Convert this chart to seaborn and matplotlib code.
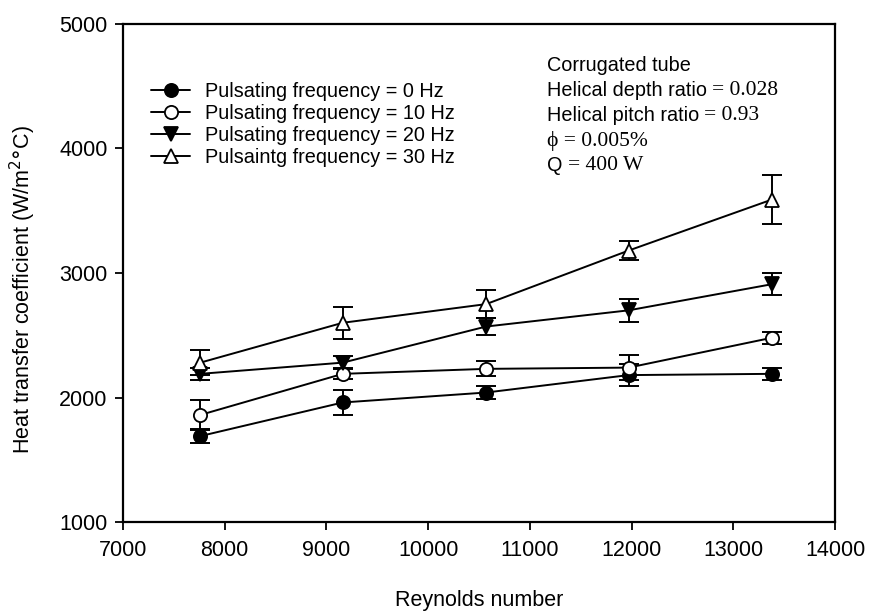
import matplotlib
matplotlib.use("Agg")
import matplotlib.pyplot as plt
import seaborn as sns
import pandas as pd
from matplotlib.lines import Line2D

# Reynolds numbers of the measurement points
reynolds = [7760, 9160, 10570, 11970, 13380]

# Heat transfer coefficient (W/m2 C) and scatter for each pulsating frequency
h_0hz = [1690, 1960, 2040, 2180, 2190]
err_0hz = [55, 100, 50, 90, 50]
h_10hz = [1860, 2190, 2230, 2240, 2480]
err_10hz = [120, 45, 60, 100, 50]
h_20hz = [2190, 2280, 2570, 2700, 2910]
err_20hz = [50, 55, 70, 90, 90]
h_30hz = [2280, 2600, 2750, 3180, 3590]
err_30hz = [100, 130, 110, 75, 200]

series_labels = [
    "Pulsating frequency = 0 Hz",
    "Pulsating frequency = 10 Hz",
    "Pulsating frequency = 20 Hz",
    "Pulsaintg frequency = 30 Hz",
]
x_ticks = [7000, 8000, 9000, 10000, 11000, 12000, 13000, 14000]
y_ticks = [1000, 2000, 3000, 4000, 5000]

sns.set_theme(style="ticks")
plt.rcParams["font.family"] = ["Liberation Sans", "DejaVu Sans"]
plt.rcParams["text.color"] = "black"
plt.rcParams["axes.labelcolor"] = "black"

fig = plt.figure(figsize=(8.69, 6.14), dpi=100)
ax = fig.add_axes([0.1415, 0.1498, 0.8195, 0.8112])

series = [
    (h_0hz, err_0hz, "o", "black"),
    (h_10hz, err_10hz, "o", "white"),
    (h_20hz, err_20hz, "v", "black"),
    (h_30hz, err_30hz, "^", "white"),
]

handles = []
for (vals, errs, mk, fc), lab in zip(series, series_labels):
    df = pd.DataFrame({"Re": reynolds, "h": vals})
    ax.errorbar(df["Re"], df["h"], yerr=errs, fmt="none", ecolor="black",
                elinewidth=1.4, capsize=7, capthick=1.4, zorder=2)
    sns.lineplot(data=df, x="Re", y="h", ax=ax, color="black", linewidth=1.4,
                 marker=mk, markersize=9.5, markerfacecolor=fc,
                 markeredgecolor="black", markeredgewidth=1.3, zorder=3)
    handles.append(Line2D([], [], color="black", linewidth=1.4, marker=mk,
                          markersize=9.5, markerfacecolor=fc,
                          markeredgecolor="black", markeredgewidth=1.3))

ax.set_xlim(7000, 14000)
ax.set_ylim(1000, 5000)
ax.set_xticks(x_ticks)
ax.set_yticks(y_ticks)
ax.tick_params(axis="both", which="both", direction="out", length=6, width=1.3,
               labelsize=15.5, colors="black", top=False, right=False)
ax.tick_params(axis="x", pad=7)
ax.tick_params(axis="y", pad=5)
for s in ax.spines.values():
    s.set_linewidth(1.6)
    s.set_color("black")

ax.set_xlabel("Reynolds number", fontsize=15.5, labelpad=21, color="black")
ax.set_ylabel("Heat transfer coefficient (W/m$^2$$\\degree$C)", fontsize=15.5,
              color="black")
ax.yaxis.set_label_coords(-0.12, 0.466)

leg = ax.legend(handles, series_labels, loc="upper left",
                bbox_to_anchor=(0.039, 0.883), frameon=False, fontsize=14.3,
                handlelength=2.0, handletextpad=0.75, labelspacing=0.15,
                borderaxespad=0.0, borderpad=0.0)

# Test conditions, sans-serif names with serif values
serif = ["Liberation Serif", "DejaVu Serif"]
lines = [
    ("Corrugated tube", ""),
    ("Helical depth ratio ", "= 0.028"),
    ("Helical pitch ratio ", "= 0.93"),
    ("", "\u03d5 = 0.005%"),
    ("Q ", "= 400 W"),
]
x0 = 0.595
y0 = 0.906
dy = 0.0505
for i, (sans_part, serif_part) in enumerate(lines):
    y = y0 - i * dy
    if sans_part:
        t = ax.text(x0, y, sans_part, transform=ax.transAxes, fontsize=14.3,
                    va="baseline", ha="left")
        if serif_part:
            ax.annotate(serif_part, xy=(1, 0), xycoords=t, xytext=(0, 0),
                        textcoords="offset points", fontsize=15.5,
                        family=serif, va="bottom", ha="left")
    else:
        ax.text(x0, y, serif_part, transform=ax.transAxes, fontsize=15.5,
                family=serif, va="baseline", ha="left")

fig.savefig("out.png", dpi=100)
